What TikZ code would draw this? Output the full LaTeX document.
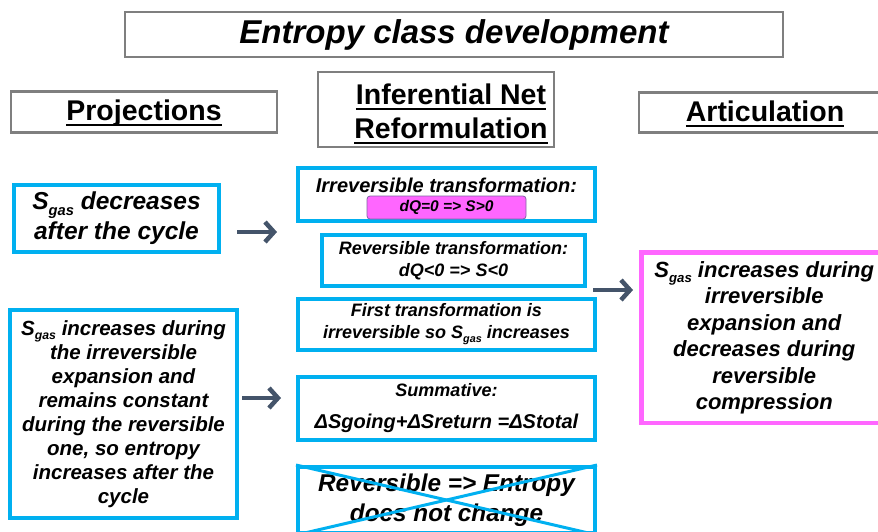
\documentclass[tikz,border=0pt]{standalone}
\usepackage{fontspec}
\usepackage{graphicx}
\setmainfont{Liberation Sans}
\usetikzlibrary{arrows.meta}
\definecolor{bx}{HTML}{00B0F0}
\definecolor{mg}{HTML}{FF66FF}
\definecolor{ar}{HTML}{44546A}
\definecolor{gr}{HTML}{7F7F7F}
\definecolor{pb}{HTML}{8064A2}
\newcommand\Sg{S\raisebox{-0.22em}{\scalebox{0.6}{gas}}}
\newcommand\ulx[1]{\setbox0\hbox{#1}\leavevmode\rlap{\rule[-6pt]{\wd0}{2.5pt}}\box0}
\begin{document}
\begin{tikzpicture}[x=1pt,y=-1pt,
 hdr/.style={draw=gr,line width=2.5pt,inner sep=0pt},
 htxt/.style={inner sep=0pt,anchor=base,font=\bfseries\fontsize{28.5}{34}\selectfont},
 bbox/.style={draw=bx,line width=4pt,inner sep=0pt,font=\bfseries\itshape,align=center},
 txt/.style={inner sep=0pt,font=\bfseries\itshape,align=center},
 arr/.style={draw=ar,line width=4.5pt,-{Straight Barb[length=9pt,width=20pt]}},
]
\useasboundingbox (0,0) rectangle (878,531);
\clip (0,0) rectangle (878,531);
% headers
\node[hdr, minimum width=658, minimum height=45, font=\bfseries\itshape\fontsize{33}{38}\selectfont] (title) at (454,34.5) {Entropy class development};
\node[hdr, minimum width=266, minimum height=41] (proj) at (144,112) {};
\node[htxt] (projt) at (144,120) {\ulx{Projections}};
\node[hdr, minimum width=236, minimum height=75] (inf) at (436,109.5) {};
\node[htxt] (inft1) at (451,104) {\ulx{Inferential Net}};
\node[htxt] (inft2) at (451,138) {\ulx{Reformulation}};
\node[hdr, minimum width=246, minimum height=40] (art) at (762,112.5) {};
\node[htxt] (artt) at (765,121) {\ulx{Articulation}};
% left column
\node[bbox, minimum width=205, minimum height=67, font=\bfseries\itshape\fontsize{24.5}{30}\selectfont] (l1) at (116.5,218.5) {\Sg{} decreases\\after the cycle};
\node[bbox, minimum width=227, minimum height=208, font=\bfseries\itshape\fontsize{20.5}{24}\selectfont] (l2) at (123.5,414) {\Sg{} increases during\\the irreversible\\expansion and\\remains constant\\during the reversible\\one, so entropy\\increases after the\\cycle};
% center column
\node[bbox, minimum width=297, minimum height=53] (c1) at (446.5,194.5) {};
\node[txt, font=\bfseries\itshape\fontsize{20}{24}\selectfont] (c1t) at (446.5,185.5) {Irreversible transformation:};
\node[draw=pb, line width=0.8pt, fill=mg, rounded corners=3pt, minimum width=159, minimum height=23, inner sep=0pt, font=\bfseries\itshape\fontsize{15.5}{18}\selectfont] (pill) at (446.5,207.5) {dQ=0 => S>0};
\node[bbox, minimum width=263, minimum height=51, font=\bfseries\itshape\fontsize{18}{22}\selectfont] (c2) at (453.5,260.5) {Reversible transformation:\\dQ<0 => S<0};
\node[bbox, minimum width=297, minimum height=51, font=\bfseries\itshape\fontsize{18}{22}\selectfont] (c3) at (446.5,324.5) {First transformation is\\irreversible so \Sg{} increases};
\node[bbox, minimum width=297, minimum height=63, font=\bfseries\itshape\fontsize{20}{32}\selectfont] (c4) at (446.5,408.5) {{\fontsize{18}{32}\selectfont Summative:}\\ΔSgoing+ΔSreturn =ΔStotal};
\node[bbox, minimum width=297, minimum height=66, font=\bfseries\itshape\fontsize{24.3}{30}\selectfont] (c5) at (446.5,500) {Reversible => Entropy\\does not change};
\draw[bx, line width=3pt] (c5.north west) -- (c5.south east);
\draw[bx, line width=3pt] (c5.south west) -- (c5.north east);
% right
\node[draw=mg, line width=4.5pt, inner sep=0pt, align=center, minimum width=245.5, minimum height=170.5, font=\bfseries\itshape\fontsize{22}{26.5}\selectfont] (r) at (764.25,337.75) {\Sg{} increases during\\irreversible\\expansion and\\decreases during\\reversible\\compression};
% arrows
\coordinate (a1s) at (237,232); \coordinate (a1e) at (277,232);
\coordinate (a2s) at (242,398); \coordinate (a2e) at (281,398);
\coordinate (a3s) at (593,290); \coordinate (a3e) at (633,290);
\draw[arr] (a1s) -- (a1e);
\draw[arr] (a2s) -- (a2e);
\draw[arr] (a3s) -- (a3e);
\end{tikzpicture}
\end{document}
